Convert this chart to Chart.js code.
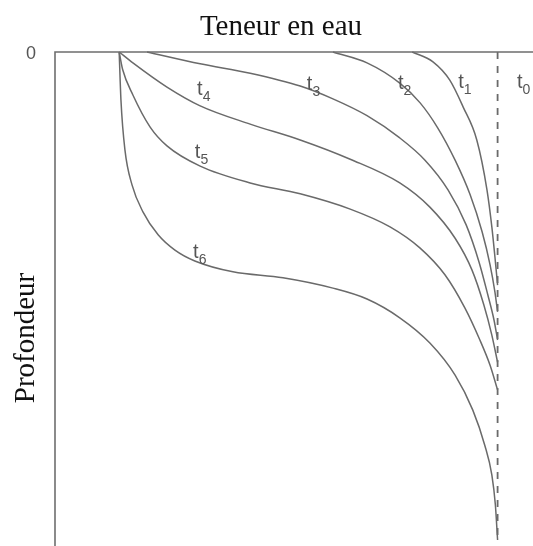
<!DOCTYPE html>
<html>
<head>
<meta charset="utf-8">
<script src="https://cdn.jsdelivr.net/npm/chart.js@4.4.1/dist/chart.umd.min.js"></script>
<style>
  html, body { margin: 0; padding: 0; background: #ffffff; }
  #wrap { width: 533px; height: 546px; }
</style>
</head>
<body>
<div id="wrap"><canvas id="c" width="533" height="546"></canvas></div>
<script>
// Water-content profiles (x) against depth (y, downward) at successive times t1..t6.
// t0 is the initial, uniform profile (dashed vertical).
const waterT0 = [100, 100];
const depthT0 = [0, 99];

const waterT1 = [80.7, 85.4, 89.2, 92.2, 95.3, 97.6, 98.7, 99.4, 100];
const depthT1 = [0, 2.0, 5.7, 11.1, 17.8, 27.9, 35.4, 41.5, 47.2];

const waterT2 = [62.8, 70.5, 77.9, 82.5, 86.5, 90.4, 93.8, 96.5, 98.3, 99.4, 100];
const depthT2 = [0, 2.2, 6.3, 10.3, 15.4, 21.9, 28.9, 36.4, 43.1, 48.6, 52.6];

const waterT3 = [20.8, 32.8, 44.1, 55.4, 62.8, 70.5, 77.9, 83.6, 88.8, 92.9, 95.8, 97.8, 99.2, 100];
const depthT3 = [0, 2.4, 4.3, 6.9, 9.5, 12.9, 17.4, 21.9, 27.9, 35.0, 42.5, 49.2, 54.3, 58.3];

const waterT4 = [14.5, 17.6, 25.3, 32.8, 44.1, 55.4, 66.7, 77.9, 84.7, 90.4, 94.2, 96.9, 98.7, 100];
const depthT4 = [0, 2.2, 7.1, 10.9, 14.6, 17.8, 21.7, 26.5, 31.4, 37.7, 44.1, 51.2, 57.3, 62.8];

const waterT5 = [14.5, 15.3, 17.6, 21.5, 25.3, 32.8, 44.1, 55.4, 66.7, 75.7, 82.5, 88.1, 92.6, 96.0, 98.3, 100];
const depthT5 = [0, 3.6, 8.7, 15.2, 19.0, 23.1, 26.5, 28.7, 31.8, 35.4, 39.7, 45.1, 51.8, 58.3, 63.4, 68.4];

const waterT6 = [14.5, 14.9, 15.8, 17.4, 19.9, 23.3, 27.1, 31.6, 40.2, 51.5, 62.8, 70.5, 77.9, 84.7, 90.4, 94.4, 97.1, 98.7, 99.5, 100];
const depthT6 = [0, 9.7, 19.8, 26.9, 32.4, 37.0, 40.1, 42.3, 44.5, 45.7, 47.8, 50.0, 53.8, 58.9, 65.4, 72.5, 79.6, 85.6, 91.7, 98.8];

// Curve labels: subscript index and anchor (water, depth) of the "t" baseline.
const curveLabels = ['0', '1', '2', '3', '4', '5', '6'];
const labelWater = [104.4, 91.1, 77.5, 56.9, 32.1, 31.6, 31.2];
const labelDepth = [7.3, 7.3, 7.4, 7.7, 8.7, 21.4, 41.7];

const axisTitleX = 'Teneur en eau';
const axisTitleY = 'Profondeur';
const originLabel = '0';

function toPoints(xs, ys) {
  return xs.map((x, i) => ({ x: x, y: ys[i] }));
}

const lineColor = '#6a6a6a';

function curve(xs, ys) {
  return {
    data: toPoints(xs, ys),
    borderColor: lineColor,
    borderWidth: 1.5,
    pointRadius: 0,
    cubicInterpolationMode: 'monotone',
    fill: false,
    clip: false
  };
}

const datasets = [
  Object.assign(curve(waterT0, depthT0), { borderDash: [7, 7], cubicInterpolationMode: 'default', tension: 0, borderWidth: 1.8 }),
  curve(waterT1, depthT1),
  curve(waterT2, depthT2),
  curve(waterT3, depthT3),
  curve(waterT4, depthT4),
  curve(waterT5, depthT5),
  curve(waterT6, depthT6)
];

// Frame (top and left axes), axis titles and curve labels.
const decorations = {
  id: 'decorations',
  afterDatasetsDraw(chart) {
    const ctx = chart.ctx;
    const a = chart.chartArea;
    const xs = chart.scales.x;
    const ys = chart.scales.y;
    ctx.save();

    ctx.strokeStyle = '#6e6e6e';
    ctx.lineWidth = 1.6;
    ctx.beginPath();
    ctx.moveTo(a.right, a.top);
    ctx.lineTo(a.left, a.top);
    ctx.lineTo(a.left, a.bottom);
    ctx.stroke();

    ctx.fillStyle = '#111111';
    ctx.font = '29px "Liberation Serif", "Times New Roman", serif';
    ctx.textAlign = 'center';
    ctx.textBaseline = 'alphabetic';
    ctx.fillText(axisTitleX, 281, 35);

    ctx.save();
    ctx.translate(26, 338);
    ctx.rotate(-Math.PI / 2);
    ctx.textBaseline = 'middle';
    ctx.fillText(axisTitleY, 0, 0);
    ctx.restore();

    ctx.fillStyle = '#555555';
    ctx.font = '18px "Liberation Sans", Arial, sans-serif';
    ctx.textAlign = 'center';
    ctx.textBaseline = 'middle';
    ctx.fillText(originLabel, 31, ys.getPixelForValue(0) + 2);

    ctx.textAlign = 'left';
    ctx.textBaseline = 'alphabetic';
    curveLabels.forEach((sub, i) => {
      const px = xs.getPixelForValue(labelWater[i]);
      const py = ys.getPixelForValue(labelDepth[i]);
      ctx.font = '20px "Liberation Sans", Arial, sans-serif';
      ctx.fillText('t', px, py);
      const w = ctx.measureText('t').width;
      ctx.font = '14px "Liberation Sans", Arial, sans-serif';
      ctx.fillText(sub, px + w, py + 6);
    });

    ctx.restore();
  }
};

new Chart(document.getElementById('c'), {
  type: 'line',
  data: { datasets: datasets },
  options: {
    responsive: false,
    animation: false,
    layout: { padding: { left: 55, top: 52, right: 0, bottom: 0 } },
    plugins: { legend: { display: false }, tooltip: { enabled: false }, title: { display: false } },
    scales: {
      x: { type: 'linear', min: 0, max: 108, display: false },
      y: { type: 'linear', min: 0, max: 100, reverse: true, display: false }
    }
  },
  plugins: [decorations]
});
</script>
</body>
</html>
